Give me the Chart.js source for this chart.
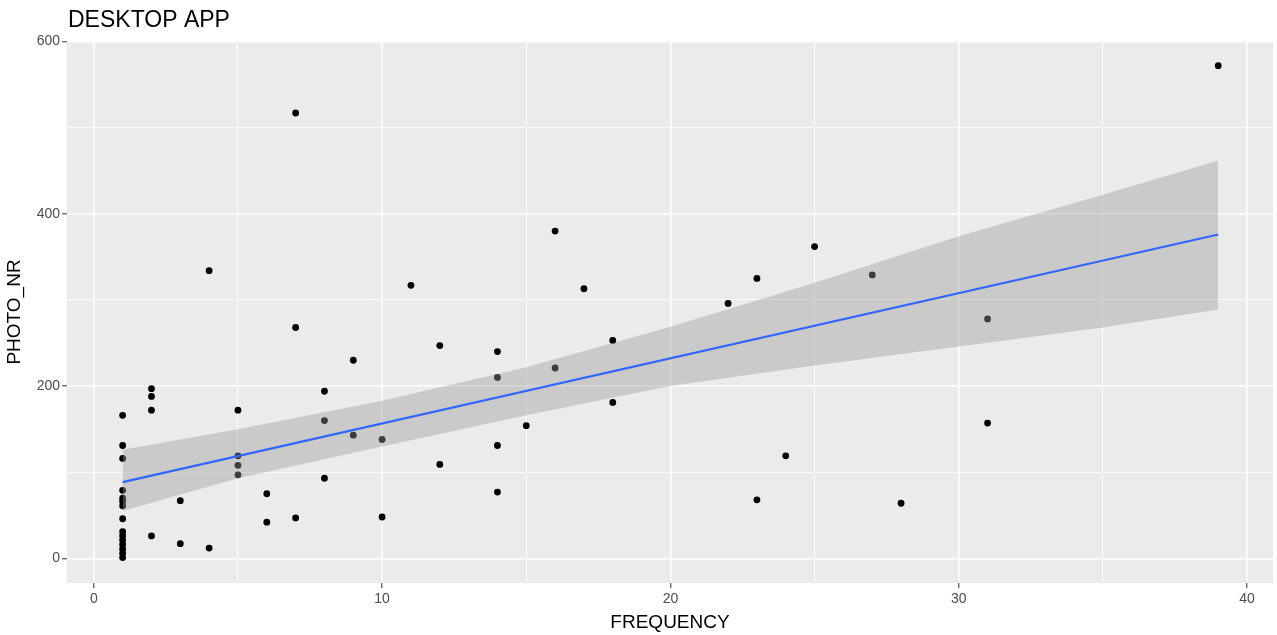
<!DOCTYPE html>
<html>
<head>
<meta charset="utf-8">
<title>DESKTOP APP</title>
<script src="https://cdn.jsdelivr.net/npm/chart.js@4.4.1/dist/chart.umd.min.js"></script>
<style>
  html, body { margin: 0; padding: 0; background: #fff; }
  #grafico { display: block; }
</style>
</head>
<body>
<canvas id="grafico" width="1277" height="635"></canvas>
<script>
// Pontos (FREQUENCY x PHOTO_NR)
const frequencias = [
    1, 1, 1, 1, 1, 1, 1, 1, 1, 1, 1, 1, 1, 1, 1,
    2, 2, 2, 2,
    3, 3,
    4, 4,
    5, 5, 5, 5,
    6, 6,
    7, 7, 7,
    8, 8, 8,
    9, 9,
    10, 10,
    11,
    12, 12,
    14, 14, 14, 14,
    15,
    16, 16,
    17,
    18, 18,
    22,
    23, 23,
    24,
    25,
    27,
    28,
    31, 31,
    39
];
const fotos = [
    166, 131, 116, 79, 70, 66, 61, 46, 31, 26, 21, 16, 11, 6, 1,
    197, 188, 172, 26,
    67, 17,
    334, 12,
    172, 119, 108, 97,
    75, 42,
    517, 268, 47,
    194, 160, 93,
    230, 143,
    138, 48,
    317,
    247, 109,
    240, 210, 131, 77,
    154,
    380, 221,
    313,
    253, 181,
    296,
    325, 68,
    119,
    362,
    329,
    64,
    278, 157,
    572
];

// Reta de regressão (extremos)
const retaX = [1, 39];
const retaY = [88.5, 376];

// Faixa de confiança em volta da reta
const faixaX = [1, 5, 10, 15, 20, 25, 30, 35, 39];
const faixaInferior = [55, 93, 130, 166, 200, 224, 246, 268, 289];
const faixaSuperior = [126, 150, 183, 222, 269, 320, 374, 422, 462];

// Marcas dos eixos (principais com rótulo, secundárias só com linha)
const xPrincipais = [0, 10, 20, 30, 40];
const xSecundarias = [5, 15, 25, 35];
const yPrincipais = [0, 200, 400, 600];
const ySecundarias = [100, 300, 500];

// Limites do painel
const xLimites = [-0.93, 40.9];
const yLimites = [-28.6, 600.6];

const tituloGrafico = 'DESKTOP APP';
const tituloX = 'FREQUENCY';
const tituloY = 'PHOTO_NR';

// Junta dois vetores em pares {x, y}
function montarPontos(xs, ys) {
    return xs.map((x, i) => ({ x: x, y: ys[i] }));
}

Chart.defaults.font.family = "'Liberation Sans', Arial, sans-serif";

// Fundo cinza do painel (estilo ggplot)
const fundoPainel = {
    id: 'fundoPainel',
    beforeDraw(chart) {
        const { ctx, chartArea } = chart;
        ctx.save();
        ctx.fillStyle = '#EBEBEB';
        ctx.fillRect(chartArea.left, chartArea.top, chartArea.right - chartArea.left, chartArea.bottom - chartArea.top);
        ctx.restore();
    }
};

// Título alinhado com a borda esquerda do painel
const tituloPainel = {
    id: 'tituloPainel',
    afterDraw(chart) {
        const { ctx, chartArea } = chart;
        ctx.save();
        ctx.fillStyle = '#000';
        ctx.font = "23px 'Liberation Sans', Arial, sans-serif";
        ctx.textBaseline = 'alphabetic';
        ctx.textAlign = 'left';
        ctx.fillText(tituloGrafico, chartArea.left + 1, 27);
        ctx.restore();
    }
};

// Opções de grade e marcas para um eixo
function configurarEixo(principais, secundarias, limites, titulo, tamanho) {
    const todas = principais.concat(secundarias).sort((a, b) => a - b);
    return {
        type: 'linear',
        min: limites[0],
        max: limites[1],
        afterBuildTicks: (escala) => {
            escala.ticks = todas.map(v => ({ value: v }));
        },
        afterFit: tamanho,
        ticks: {
            autoSkip: false,
            maxRotation: 0,
            color: '#4D4D4D',
            font: { size: 14 },
            padding: 3,
            callback: (valor) => principais.includes(valor) ? String(valor) : ''
        },
        grid: {
            color: '#FFFFFF',
            lineWidth: (c) => (c.tick && principais.includes(c.tick.value)) ? 1.6 : 0.8,
            tickColor: (c) => (c.tick && principais.includes(c.tick.value)) ? '#333333' : 'rgba(0,0,0,0)',
            tickLength: 5,
            tickWidth: 1
        },
        border: { display: false },
        title: {
            display: true,
            text: titulo,
            color: '#000',
            font: { size: 19 }
        }
    };
}

const eixoX = configurarEixo(xPrincipais, xSecundarias, xLimites, tituloX, (e) => { e.height = 52; });
eixoX.title.padding = { top: 0, bottom: 1 };
const eixoY = configurarEixo(yPrincipais, ySecundarias, yLimites, tituloY, (e) => { e.width = 67; });
eixoY.title.padding = { top: 3, bottom: 0 };
eixoY.ticks.padding = 2;

const ctx = document.getElementById('grafico').getContext('2d');

new Chart(ctx, {
    type: 'scatter',
    data: {
        datasets: [
            {
                label: 'Pontos',
                data: montarPontos(frequencias, fotos),
                backgroundColor: '#000000',
                borderWidth: 0,
                pointRadius: 3.4,
                order: 3
            },
            {
                type: 'line',
                label: 'Faixa inferior',
                data: montarPontos(faixaX, faixaInferior),
                borderWidth: 0,
                borderColor: 'rgba(0,0,0,0)',
                pointRadius: 0,
                fill: false,
                order: 2
            },
            {
                type: 'line',
                label: 'Faixa superior',
                data: montarPontos(faixaX, faixaSuperior),
                borderWidth: 0,
                borderColor: 'rgba(0,0,0,0)',
                backgroundColor: 'rgba(153,153,153,0.4)',
                pointRadius: 0,
                fill: '-1',
                order: 2
            },
            {
                type: 'line',
                label: 'Regressão',
                data: montarPontos(retaX, retaY),
                borderColor: '#3366FF',
                borderWidth: 2.2,
                pointRadius: 0,
                fill: false,
                order: 1
            }
        ]
    },
    options: {
        responsive: false,
        animation: false,
        layout: {
            padding: { top: 41, right: 0, bottom: 0, left: 0 }
        },
        plugins: {
            legend: { display: false },
            tooltip: { enabled: false },
            title: { display: false }
        },
        scales: {
            x: eixoX,
            y: eixoY
        }
    },
    plugins: [fundoPainel, tituloPainel]
});
</script>
</body>
</html>
